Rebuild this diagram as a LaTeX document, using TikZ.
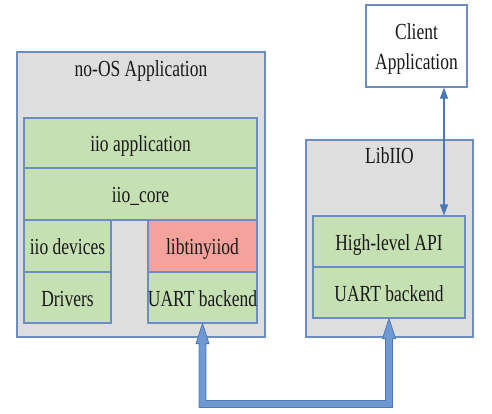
\documentclass[tikz,border=0pt]{standalone}
\usepackage{fontspec}
\setmainfont[FakeStretch=0.76]{Liberation Serif}
\usetikzlibrary{arrows.meta,calc}
\definecolor{grayfill}{HTML}{DEDEDE}
\definecolor{bordblue}{HTML}{6C8EBF}
\definecolor{greenfill}{HTML}{C5E0B3}
\definecolor{redfill}{HTML}{F4A29B}
\definecolor{arrowblue}{HTML}{4A78B5}
\definecolor{bigfill}{HTML}{6F9AD1}
\definecolor{bigdraw}{HTML}{4E79B8}
\tikzset{
  base/.style={draw=bordblue, line width=1.2pt, inner sep=0pt,
    font=\fontsize{23}{30}\selectfont, text=black!90},
  outerbox/.style={base, fill=grayfill},
  greenbox/.style={base, fill=greenfill, text height=17.5pt, text depth=0pt},
  redbox/.style={base, fill=redfill, text height=17.5pt, text depth=0pt},
  whitebox/.style={base, fill=white},
  title/.style={inner sep=0pt, anchor=base, font=\fontsize{23}{30}\selectfont, text=black!90},
}
\begin{document}
\begin{tikzpicture}[x=1pt,y=-1pt]
\useasboundingbox (0,0) rectangle (492,413);
% outer containers
\node[outerbox, minimum width=248pt, minimum height=285pt] (noos) at (141,194.5) {};
\node[title] (noostitle) at (141,76) {no-OS Application};
\node[outerbox, minimum width=167pt, minimum height=197pt] (lib) at (389.5,238.5) {};
\node[title] (libtitle) at (389.5,163) {LibIIO};
\node[whitebox, minimum width=101pt, minimum height=82pt] (client) at (416.5,46) {};
\node[title] (clienta) at (416.5,39.5) {Client};
\node[title] (clientb) at (416.5,69.5) {Application};
% no-OS inner boxes
\node[greenbox, minimum width=233pt, minimum height=50pt] (iioapp) at (140.5,143) {iio application};
\node[greenbox, minimum width=233pt, minimum height=52pt] (iiocore) at (140.5,194) {iio\_core};
\node[greenbox, minimum width=87pt, minimum height=52pt] (iiodev) at (67.5,246) {iio devices};
\node[greenbox, minimum width=87pt, minimum height=51pt] (drivers) at (67.5,297.5) {Drivers};
\node[redbox, minimum width=109pt, minimum height=52pt] (libtiny) at (202.5,246) {libtinyiiod};
\node[greenbox, minimum width=109pt, minimum height=51pt] (uartL) at (202.5,297.5) {UART backend};
% LibIIO inner boxes
\node[greenbox, minimum width=152pt, minimum height=51pt] (hlapi) at (389,241.5) {High-level API};
\node[greenbox, minimum width=152pt, minimum height=51pt] (uartR) at (389,292.5) {UART backend};
% thin double arrow
\coordinate (ax) at (444,0);
\draw[arrowblue, line width=1.2pt, {Triangle[length=11pt,width=8pt]}-{Triangle[length=11pt,width=8pt]}]
  (client.south -| ax) -- (hlapi.north -| ax);
% thick connector between the UART backends
\coordinate (aL) at (uartL.south);
\coordinate (aR) at (uartR.south);
\coordinate (bL) at (aL |- 0,404);
\coordinate (bR) at (aR |- 0,404);
\draw[bigdraw, fill=bigfill, line width=0.8pt, line join=miter]
  (aL) -- ($(aL)+(6.5,20)$) -- ($(aL)+(3.5,20)$) -- ($(bL)+(3.5,-3.5)$)
  -- ($(bR)+(-3.5,-3.5)$) -- ($(aR)+(-3.5,20)$) -- ($(aR)+(-6.5,20)$)
  -- (aR) -- ($(aR)+(6.5,20)$) -- ($(aR)+(3.5,20)$) -- ($(bR)+(3.5,3.5)$)
  -- ($(bL)+(-3.5,3.5)$) -- ($(aL)+(-3.5,20)$) -- ($(aL)+(-6.5,20)$) -- cycle;
\end{tikzpicture}
\end{document}
